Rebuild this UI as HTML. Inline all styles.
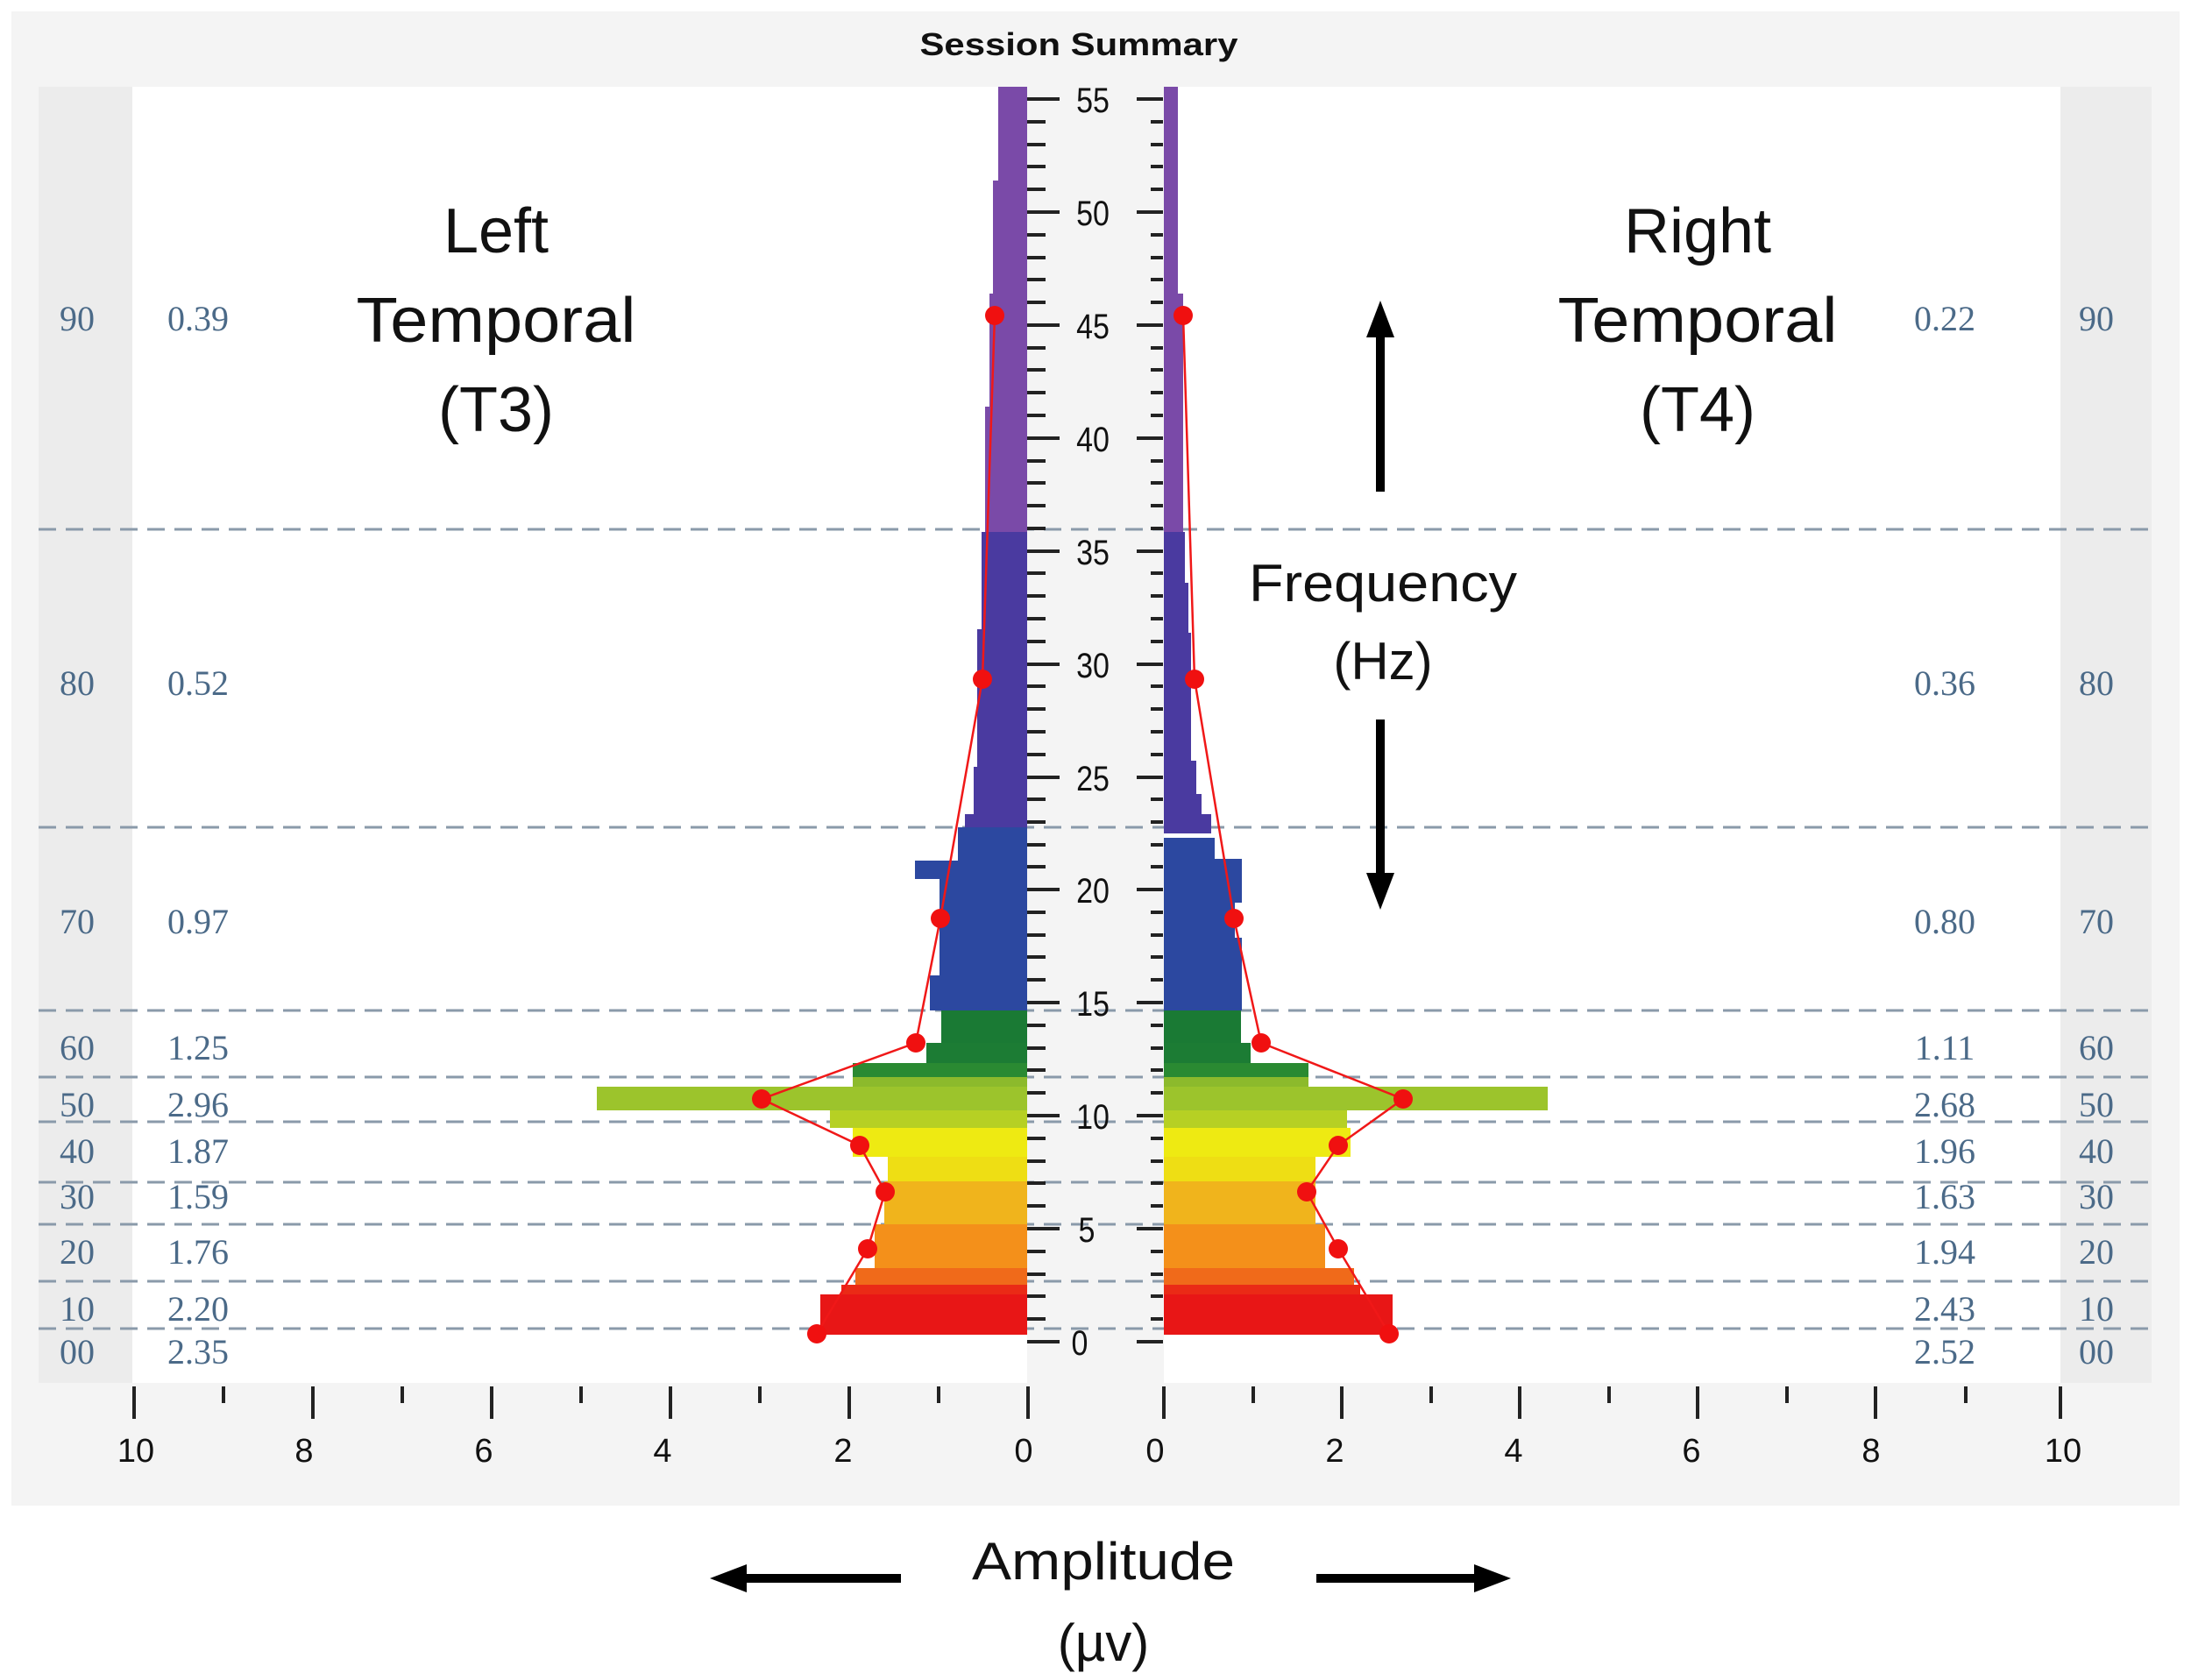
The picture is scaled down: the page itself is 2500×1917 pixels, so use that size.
<!DOCTYPE html>
<html><head><meta charset="utf-8"><style>
html,body{margin:0;padding:0;background:#fff}
svg{display:block}
</style></head><body>
<svg width="2500" height="1917" viewBox="0 0 2500 1917" xmlns="http://www.w3.org/2000/svg">
<rect x="0" y="0" width="2500" height="1917" fill="#fff"/>
<rect x="13" y="13" width="2474" height="1705" fill="#f4f4f4"/>
<rect x="44" y="99" width="107" height="1479" fill="#ececec"/>
<rect x="2351" y="99" width="104" height="1479" fill="#ececec"/>
<rect x="151" y="99" width="2200" height="1479" fill="#fff"/>
<rect x="1172" y="99" width="156" height="1479" fill="#f4f4f4"/>

<g stroke="#8a9aaa" stroke-width="3" stroke-dasharray="20,11">
<line x1="44" y1="604" x2="2455" y2="604"/>
<line x1="44" y1="944" x2="2455" y2="944"/>
<line x1="44" y1="1153" x2="2455" y2="1153"/>
<line x1="44" y1="1229" x2="2455" y2="1229"/>
<line x1="44" y1="1280" x2="2455" y2="1280"/>
<line x1="44" y1="1349" x2="2455" y2="1349"/>
<line x1="44" y1="1397" x2="2455" y2="1397"/>
<line x1="44" y1="1462" x2="2455" y2="1462"/>
<line x1="44" y1="1516" x2="2455" y2="1516"/>
</g>

<!-- left bars -->
<g>
<rect x="936" y="1477" width="236" height="46" fill="#e81616"/>
<rect x="960" y="1466" width="212" height="11" fill="#ea2a16"/>
<rect x="976" y="1447" width="196" height="19" fill="#f06a1a"/>
<rect x="998" y="1397" width="174" height="50" fill="#f4901a"/>
<rect x="1009" y="1348" width="163" height="49" fill="#f0b41c"/>
<rect x="1013" y="1320" width="159" height="28" fill="#eede14"/>
<rect x="973" y="1287" width="199" height="33" fill="#eeea12"/>
<rect x="947" y="1267" width="225" height="20" fill="#b6d024"/>
<rect x="681" y="1240" width="491" height="27" fill="#9cc42c"/>
<rect x="973" y="1229" width="199" height="11" fill="#8cba2c"/>
<rect x="973" y="1213" width="199" height="16" fill="#2a8a32"/>
<rect x="1057" y="1190" width="115" height="23" fill="#1c7c34"/>
<rect x="1074" y="1153" width="98" height="37" fill="#1a7a34"/>
<rect x="1061" y="1113" width="111" height="40" fill="#2c48a0"/>
<rect x="1072" y="1003" width="100" height="110" fill="#2c48a0"/>
<rect x="1044" y="982" width="128" height="21" fill="#2c48a0"/>
<rect x="1093" y="944" width="79" height="38" fill="#2c48a0"/>
<rect x="1101" y="929" width="71" height="15" fill="#4a3aa0"/>
<rect x="1111" y="875" width="61" height="54" fill="#4a3aa0"/>
<rect x="1115" y="718" width="57" height="157" fill="#4a3aa0"/>
<rect x="1120" y="607" width="52" height="111" fill="#4a3aa0"/>
<rect x="1124" y="464" width="48" height="143" fill="#7a4aa8"/>
<rect x="1129" y="335" width="43" height="129" fill="#7a4aa8"/>
<rect x="1133" y="206" width="39" height="129" fill="#7a4aa8"/>
<rect x="1139" y="99" width="33" height="107" fill="#7a4aa8"/>
</g>
<!-- right bars -->
<g>
<rect x="1328" y="1477" width="261" height="46" fill="#e81616"/>
<rect x="1328" y="1466" width="224" height="11" fill="#ea2a16"/>
<rect x="1328" y="1447" width="217" height="19" fill="#f06a1a"/>
<rect x="1328" y="1397" width="184" height="50" fill="#f4901a"/>
<rect x="1328" y="1348" width="173" height="49" fill="#f0b41c"/>
<rect x="1328" y="1320" width="173" height="28" fill="#eede14"/>
<rect x="1328" y="1287" width="213" height="33" fill="#eeea12"/>
<rect x="1328" y="1267" width="209" height="20" fill="#b6d024"/>
<rect x="1328" y="1240" width="438" height="27" fill="#9cc42c"/>
<rect x="1328" y="1229" width="165" height="11" fill="#8cba2c"/>
<rect x="1328" y="1213" width="165" height="16" fill="#2a8a32"/>
<rect x="1328" y="1190" width="99" height="23" fill="#1c7c34"/>
<rect x="1328" y="1153" width="88" height="37" fill="#1a7a34"/>
<rect x="1328" y="1070" width="89" height="83" fill="#2c48a0"/>
<rect x="1328" y="1030" width="81" height="40" fill="#2c48a0"/>
<rect x="1328" y="980" width="89" height="50" fill="#2c48a0"/>
<rect x="1328" y="956" width="58" height="24" fill="#2c48a0"/>
<rect x="1328" y="929" width="54" height="22" fill="#4a3aa0"/>
<rect x="1328" y="906" width="43" height="23" fill="#4a3aa0"/>
<rect x="1328" y="868" width="37" height="38" fill="#4a3aa0"/>
<rect x="1328" y="722" width="31" height="146" fill="#4a3aa0"/>
<rect x="1328" y="665" width="28" height="57" fill="#4a3aa0"/>
<rect x="1328" y="607" width="24" height="58" fill="#4a3aa0"/>
<rect x="1328" y="335" width="22" height="272" fill="#7a4aa8"/>
<rect x="1328" y="99" width="16" height="236" fill="#7a4aa8"/>
</g>

<g fill="none" stroke="#f01818" stroke-width="2.5">
<polyline points="932,1522 990,1425 1010,1360 981,1307 869,1254 1045,1190 1073,1048 1121,775 1135,360"/>
<polyline points="1585,1522 1527,1425 1491,1360 1527,1307 1601,1254 1439,1190 1408,1048 1363,775 1350,360"/>
</g>
<g fill="#f01010">
<circle cx="932" cy="1522" r="11"/><circle cx="990" cy="1425" r="11"/><circle cx="1010" cy="1360" r="11"/><circle cx="981" cy="1307" r="11"/><circle cx="869" cy="1254" r="11"/><circle cx="1045" cy="1190" r="11"/><circle cx="1073" cy="1048" r="11"/><circle cx="1121" cy="775" r="11"/><circle cx="1135" cy="360" r="11"/>
<circle cx="1585" cy="1522" r="11"/><circle cx="1527" cy="1425" r="11"/><circle cx="1491" cy="1360" r="11"/><circle cx="1527" cy="1307" r="11"/><circle cx="1601" cy="1254" r="11"/><circle cx="1439" cy="1190" r="11"/><circle cx="1408" cy="1048" r="11"/><circle cx="1363" cy="775" r="11"/><circle cx="1350" cy="360" r="11"/>
</g>

<g stroke="#222" stroke-width="4">
<line x1="1172" y1="1531" x2="1209" y2="1531"/><line x1="1297" y1="1531" x2="1327" y2="1531"/>
<line x1="1172" y1="1402" x2="1209" y2="1402"/><line x1="1297" y1="1402" x2="1327" y2="1402"/>
<line x1="1172" y1="1273" x2="1209" y2="1273"/><line x1="1297" y1="1273" x2="1327" y2="1273"/>
<line x1="1172" y1="1144" x2="1209" y2="1144"/><line x1="1297" y1="1144" x2="1327" y2="1144"/>
<line x1="1172" y1="1015" x2="1209" y2="1015"/><line x1="1297" y1="1015" x2="1327" y2="1015"/>
<line x1="1172" y1="887" x2="1209" y2="887"/><line x1="1297" y1="887" x2="1327" y2="887"/>
<line x1="1172" y1="758" x2="1209" y2="758"/><line x1="1297" y1="758" x2="1327" y2="758"/>
<line x1="1172" y1="629" x2="1209" y2="629"/><line x1="1297" y1="629" x2="1327" y2="629"/>
<line x1="1172" y1="500" x2="1209" y2="500"/><line x1="1297" y1="500" x2="1327" y2="500"/>
<line x1="1172" y1="371" x2="1209" y2="371"/><line x1="1297" y1="371" x2="1327" y2="371"/>
<line x1="1172" y1="242" x2="1209" y2="242"/><line x1="1297" y1="242" x2="1327" y2="242"/>
<line x1="1172" y1="113" x2="1209" y2="113"/><line x1="1297" y1="113" x2="1327" y2="113"/>
</g>
<g stroke="#222" stroke-width="4">
<path d="M1172 1505h21M1172 1479h21M1172 1454h21M1172 1428h21M1172 1376h21M1172 1350h21M1172 1325h21M1172 1299h21M1172 1247h21M1172 1221h21M1172 1196h21M1172 1170h21M1172 1118h21M1172 1092h21M1172 1067h21M1172 1041h21M1172 989h21M1172 964h21M1172 938h21M1172 912h21M1172 861h21M1172 835h21M1172 809h21M1172 783h21M1172 732h21M1172 706h21M1172 680h21M1172 654h21M1172 603h21M1172 577h21M1172 551h21M1172 526h21M1172 474h21M1172 448h21M1172 422h21M1172 397h21M1172 345h21M1172 319h21M1172 294h21M1172 268h21M1172 216h21M1172 190h21M1172 165h21M1172 139h21"/>
<path d="M1313 1505h14M1313 1479h14M1313 1454h14M1313 1428h14M1313 1376h14M1313 1350h14M1313 1325h14M1313 1299h14M1313 1247h14M1313 1221h14M1313 1196h14M1313 1170h14M1313 1118h14M1313 1092h14M1313 1067h14M1313 1041h14M1313 989h14M1313 964h14M1313 938h14M1313 912h14M1313 861h14M1313 835h14M1313 809h14M1313 783h14M1313 732h14M1313 706h14M1313 680h14M1313 654h14M1313 603h14M1313 577h14M1313 551h14M1313 526h14M1313 474h14M1313 448h14M1313 422h14M1313 397h14M1313 345h14M1313 319h14M1313 294h14M1313 268h14M1313 216h14M1313 190h14M1313 165h14M1313 139h14"/>
</g>
<g font-family="Liberation Sans, sans-serif" font-size="40" fill="#111" text-anchor="middle">
<text x="1232" y="1546" transform="translate(1232 0) scale(0.85 1) translate(-1232 0)">0</text>
<text x="1240" y="1417" transform="translate(1240 0) scale(0.85 1) translate(-1240 0)">5</text>
<text x="1247" y="1288" transform="translate(1247 0) scale(0.85 1) translate(-1247 0)">10</text>
<text x="1247" y="1159" transform="translate(1247 0) scale(0.85 1) translate(-1247 0)">15</text>
<text x="1247" y="1030" transform="translate(1247 0) scale(0.85 1) translate(-1247 0)">20</text>
<text x="1247" y="902" transform="translate(1247 0) scale(0.85 1) translate(-1247 0)">25</text>
<text x="1247" y="773" transform="translate(1247 0) scale(0.85 1) translate(-1247 0)">30</text>
<text x="1247" y="644" transform="translate(1247 0) scale(0.85 1) translate(-1247 0)">35</text>
<text x="1247" y="515" transform="translate(1247 0) scale(0.85 1) translate(-1247 0)">40</text>
<text x="1247" y="386" transform="translate(1247 0) scale(0.85 1) translate(-1247 0)">45</text>
<text x="1247" y="257" transform="translate(1247 0) scale(0.85 1) translate(-1247 0)">50</text>
<text x="1247" y="128" transform="translate(1247 0) scale(0.85 1) translate(-1247 0)">55</text>
</g>

<g stroke="#222" stroke-width="4">
<path d="M1173 1582v37M969 1582v37M765 1582v37M561 1582v37M357 1582v37M153 1582v37"/>
<path d="M1071 1582v19M867 1582v19M663 1582v19M459 1582v19M255 1582v19"/>
<path d="M1328 1582v37M1531 1582v37M1734 1582v37M1937 1582v37M2140 1582v37M2351 1582v37"/>
<path d="M1430 1582v19M1633 1582v19M1836 1582v19M2039 1582v19M2243 1582v19"/>
</g>
<g font-family="Liberation Sans, sans-serif" font-size="38" fill="#111" text-anchor="middle">
<text x="155" y="1668">10</text><text x="347" y="1668">8</text><text x="552" y="1668">6</text><text x="756" y="1668">4</text><text x="962" y="1668">2</text><text x="1168" y="1668">0</text>
<text x="1318" y="1668">0</text><text x="1523" y="1668">2</text><text x="1727" y="1668">4</text><text x="1930" y="1668">6</text><text x="2135" y="1668">8</text><text x="2354" y="1668">10</text>
</g>

<g font-family="Liberation Serif, serif" font-size="40" fill="#4b6a88" text-anchor="middle">
<text x="88" y="377">90</text><text x="226" y="377">0.39</text><text x="2219" y="377">0.22</text><text x="2392" y="377">90</text>
<text x="88" y="793">80</text><text x="226" y="793">0.52</text><text x="2219" y="793">0.36</text><text x="2392" y="793">80</text>
<text x="88" y="1065">70</text><text x="226" y="1065">0.97</text><text x="2219" y="1065">0.80</text><text x="2392" y="1065">70</text>
<text x="88" y="1209">60</text><text x="226" y="1209">1.25</text><text x="2219" y="1209">1.11</text><text x="2392" y="1209">60</text>
<text x="88" y="1274">50</text><text x="226" y="1274">2.96</text><text x="2219" y="1274">2.68</text><text x="2392" y="1274">50</text>
<text x="88" y="1327">40</text><text x="226" y="1327">1.87</text><text x="2219" y="1327">1.96</text><text x="2392" y="1327">40</text>
<text x="88" y="1379">30</text><text x="226" y="1379">1.59</text><text x="2219" y="1379">1.63</text><text x="2392" y="1379">30</text>
<text x="88" y="1442">20</text><text x="226" y="1442">1.76</text><text x="2219" y="1442">1.94</text><text x="2392" y="1442">20</text>
<text x="88" y="1507">10</text><text x="226" y="1507">2.20</text><text x="2219" y="1507">2.43</text><text x="2392" y="1507">10</text>
<text x="88" y="1556">00</text><text x="226" y="1556">2.35</text><text x="2219" y="1556">2.52</text><text x="2392" y="1556">00</text>
</g>

<text x="1231" y="63" font-family="Liberation Sans, sans-serif" font-weight="bold" font-size="36" fill="#111" text-anchor="middle" textLength="363" lengthAdjust="spacingAndGlyphs">Session Summary</text>

<g font-family="Liberation Sans, sans-serif" font-size="72" fill="#111" text-anchor="middle">
<text x="566" y="288">Left</text>
<text x="566" y="390" textLength="319" lengthAdjust="spacingAndGlyphs">Temporal</text>
<text x="566" y="492">(T3)</text>
<text x="1937" y="288">Right</text>
<text x="1937" y="390" textLength="319" lengthAdjust="spacingAndGlyphs">Temporal</text>
<text x="1937" y="492">(T4)</text>
</g>
<g font-family="Liberation Sans, sans-serif" font-size="60" fill="#111" text-anchor="middle">
<text x="1578" y="686" textLength="306" lengthAdjust="spacingAndGlyphs">Frequency</text>
<text x="1578" y="775">(Hz)</text>
<text x="1259" y="1802" textLength="300" lengthAdjust="spacingAndGlyphs">Amplitude</text>
<text x="1259" y="1895">(µv)</text>
</g>

<g stroke="#000" stroke-width="10">
<line x1="1575" y1="380" x2="1575" y2="561"/>
<line x1="1575" y1="821" x2="1575" y2="1000"/>
<line x1="850" y1="1801" x2="1028" y2="1801"/>
<line x1="1502" y1="1801" x2="1682" y2="1801"/>
</g>
<g fill="#000">
<polygon points="1575,343 1559,385 1591,385"/>
<polygon points="1575,1038 1559,996 1591,996"/>
<polygon points="810,1801 852,1785 852,1817"/>
<polygon points="1724,1801 1682,1785 1682,1817"/>
</g>
</svg>
</body></html>
